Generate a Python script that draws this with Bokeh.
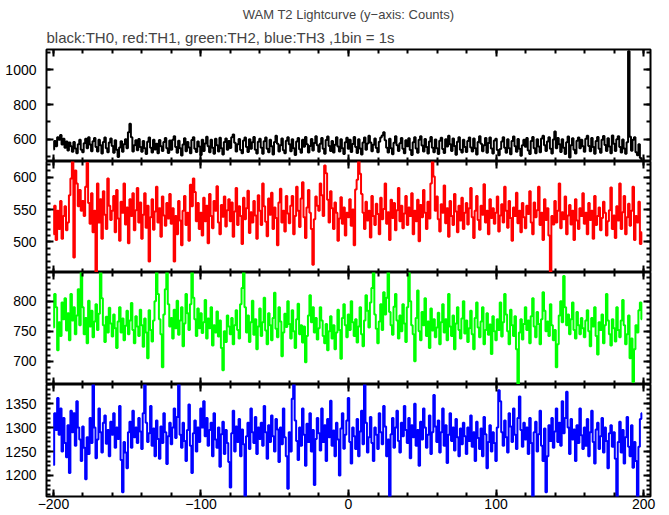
from bokeh.plotting import figure
from bokeh.layouts import column
from bokeh.models import LinearAxis, SingleIntervalTicker, Range1d, Title, ColumnDataSource
from bokeh.embed import file_html
from bokeh.resources import INLINE

# ---------------- data (1 s bins, time in s) ----------------
time_s = list(range(-200, 200))

th0 = [
    541, 590, 560, 612, 598, 625, 570, 603, 552, 588, 536, 581, 560, 528, 584, 547, 520, 572, 598, 540,
    526, 577, 603, 548, 612, 570, 531, 589, 608, 556, 530, 597, 566, 518, 584, 610, 549, 525, 581, 605,
    562, 522, 594, 540, 498, 553, 589, 528, 571, 600, 548, 640, 690, 612, 530, 566, 594, 537, 602, 555,
    528, 590, 549, 515, 586, 611, 552, 524, 598, 541, 575, 519, 596, 560, 532, 585, 607, 548, 521, 593,
    540, 598, 617, 556, 522, 592, 548, 507, 570, 606, 531, 584, 553, 520, 596, 612, 545, 527, 588, 559,
    510, 597, 533, 576, 615, 560, 526, 598, 551, 516, 603, 566, 530, 609, 548, 512, 584, 604, 540, 590,
    550, 612, 628, 580, 529, 571, 602, 538, 520, 593, 611, 556, 527, 601, 546, 583, 614, 540, 518, 586,
    603, 552, 516, 589, 610, 545, 526, 598, 560, 513, 584, 620, 575, 530, 566, 605, 537, 519, 592, 612,
    571, 531, 600, 549, 510, 588, 608, 543, 522, 597, 557, 613, 572, 524, 561, 602, 536, 579, 618, 566,
    528, 574, 607, 545, 517, 596, 616, 562, 533, 590, 524, 569, 612, 558, 529, 601, 548, 515, 583, 609,
    546, 598, 527, 573, 614, 556, 521, 600, 547, 512, 582, 611, 540, 576, 620, 581, 531, 568, 604, 550,
    525, 586, 610, 622, 640, 595, 552, 524, 603, 548, 514, 580, 618, 566, 533, 577, 608, 545, 519, 594,
    560, 606, 538, 510, 583, 612, 547, 522, 597, 617, 565, 529, 602, 556, 518, 588, 613, 552, 526, 599,
    549, 515, 592, 609, 544, 521, 601, 558, 620, 571, 533, 605, 562, 511, 586, 612, 540, 524, 597, 556,
    527, 590, 611, 553, 530, 604, 548, 512, 584, 618, 575, 531, 566, 607, 522, 579, 610, 547, 518, 593,
    603, 538, 508, 544, 588, 612, 551, 523, 600, 548, 514, 590, 616, 560, 528, 602, 546, 505, 566, 598,
    557, 607, 536, 515, 590, 614, 548, 520, 601, 559, 526, 604, 621, 566, 532, 588, 612, 546, 518, 599,
    645, 549, 607, 571, 527, 600, 552, 515, 583, 616, 495, 566, 606, 540, 518, 592, 611, 548, 597, 560,
    528, 603, 620, 562, 531, 608, 555, 517, 590, 613, 546, 522, 598, 619, 567, 533, 606, 558, 520, 622,
    574, 532, 601, 618, 556, 524, 599, 547, 516, 583, 1108, 615, 534, 597, 612, 526, 508, 571, 492, 470,
]

th1 = [
    512, 556, 503, 548, 520, 563, 505, 540, 555, 518, 530, 572, 598, 625, 476, 610, 590, 555, 580, 548,
    563, 540, 585, 622, 560, 528, 575, 515, 548, 452, 590, 530, 566, 505, 578, 542, 520, 598, 556, 534,
    548, 571, 515, 580, 536, 502, 562, 545, 590, 527, 553, 498, 566, 540, 575, 518, 549, 583, 530, 561,
    505, 542, 575, 522, 556, 470, 538, 566, 519, 547, 585, 530, 552, 508, 570, 541, 525, 560, 536, 574,
    528, 552, 470, 540, 512, 563, 533, 495, 548, 571, 526, 545, 502, 588, 555, 598, 577, 532, 560, 520,
    545, 510, 568, 532, 556, 498, 574, 540, 521, 563, 548, 586, 530, 512, 557, 539, 570, 524, 549, 566,
    532, 561, 508, 547, 583, 526, 555, 540, 497, 568, 535, 552, 579, 514, 546, 530, 563, 541, 505, 572,
    548, 526, 590, 555, 531, 509, 567, 542, 576, 520, 553, 537, 495, 561, 582, 530, 548, 516, 571, 544,
    529, 556, 571, 512, 540, 585, 548, 523, 567, 592, 538, 506, 553, 580, 545, 520, 465, 535, 570, 556,
    548, 590, 572, 540, 618, 606, 565, 530, 578, 552, 520, 561, 545, 502, 536, 569, 528, 553, 510, 545,
    538, 566, 525, 550, 495, 581, 596, 628, 605, 574, 545, 520, 562, 533, 548, 507, 571, 540, 526, 559,
    543, 512, 568, 535, 551, 590, 528, 546, 503, 565, 537, 560, 518, 549, 583, 532, 556, 521, 544, 571,
    526, 553, 540, 575, 512, 548, 532, 565, 501, 557, 538, 580, 545, 520, 562, 536, 590, 628, 601, 548,
    570, 535, 516, 558, 545, 587, 529, 552, 508, 563, 540, 526, 574, 547, 515, 556, 533, 568, 520, 545,
    560, 527, 552, 583, 538, 506, 548, 571, 534, 519, 556, 542, 589, 530, 548, 512, 566, 537, 552, 528,
    545, 570, 516, 541, 558, 530, 585, 548, 522, 563, 537, 502, 553, 540, 576, 529, 548, 515, 560, 538,
    521, 556, 543, 578, 530, 512, 561, 538, 549, 585, 526, 545, 503, 566, 534, 552, 510, 452, 540, 527,
    563, 530, 548, 590, 521, 546, 535, 570, 512, 541, 557, 527, 548, 503, 566, 533, 520, 552, 540, 575,
    528, 545, 512, 560, 534, 548, 505, 571, 526, 540, 553, 518, 537, 562, 545, 510, 532, 549, 584, 520,
    541, 506, 555, 533, 590, 520, 546, 571, 512, 538, 559, 525, 548, 585, 503, 540, 530, 562, 497, 515,
]

th2 = [
    756, 812, 790, 718, 765, 742, 798, 770, 805, 751, 780, 735, 812, 768, 790, 745, 776, 820, 760, 850,
    790, 745, 772, 730, 801, 758, 784, 740, 766, 795, 752, 779, 852, 805, 760, 732, 774, 748, 789, 763,
    741, 778, 755, 722, 766, 790, 748, 771, 735, 759, 784, 745, 768, 797, 752, 730, 775, 758, 742, 786,
    760, 724, 771, 748, 705, 785, 752, 733, 768, 800, 850, 812, 770, 745, 690, 778, 820, 852, 795, 758,
    772, 738, 786, 755, 801, 744, 768, 790, 725, 763, 812, 780, 752, 795, 850, 806, 770, 742, 788, 755,
    780, 747, 765, 802, 738, 771, 755, 790, 726, 760, 748, 783, 741, 768, 722, 685, 750, 732, 776, 758,
    745, 772, 728, 760, 785, 752, 738, 795, 822, 852, 790, 748, 776, 732, 765, 801, 744, 770, 720, 758,
    788, 742, 765, 806, 751, 728, 780, 760, 735, 772, 814, 754, 740, 790, 766, 708, 748, 779, 757, 800,
    762, 738, 785, 750, 722, 770, 796, 745, 760, 731, 758, 698, 742, 776, 810, 765, 790, 748, 772, 736,
    755, 790, 768, 742, 730, 762, 718, 750, 775, 738, 760, 720, 748, 786, 752, 704, 772, 795, 760, 740,
    778, 752, 800, 765, 742, 770, 731, 758, 790, 745, 725, 768, 810, 784, 756, 798, 822, 850, 778, 754,
    730, 766, 795, 752, 815, 778, 806, 850, 782, 760, 744, 791, 812, 768, 738, 776, 750, 795, 763, 732,
    790, 850, 800, 760, 745, 700, 772, 818, 750, 735, 782, 760, 805, 742, 766, 722, 788, 751, 770, 740,
    756, 781, 728, 765, 795, 748, 770, 735, 812, 758, 742, 776, 720, 763, 790, 752, 738, 771, 800, 746,
    768, 732, 755, 784, 745, 720, 772, 798, 756, 740, 766, 790, 728, 752, 780, 744, 761, 712, 775, 750,
    735, 770, 752, 798, 741, 765, 812, 778, 750, 728, 786, 760, 742, 775, 720, 655, 748, 770, 736, 762,
    790, 752, 768, 730, 775, 805, 758, 740, 782, 762, 728, 770, 815, 784, 750, 766, 742, 795, 760, 735,
    752, 690, 728, 776, 800, 765, 842, 790, 760, 778, 745, 770, 798, 752, 738, 782, 760, 745, 772, 755,
    740, 768, 785, 750, 725, 772, 758, 790, 742, 711, 765, 752, 778, 730, 760, 812, 768, 745, 726, 770,
    755, 733, 790, 752, 740, 768, 802, 760, 728, 745, 776, 705, 738, 665, 720, 760, 748, 785, 798, 770,
]

th3 = [
    1222, 1330, 1295, 1362, 1285, 1340, 1250, 1320, 1268, 1238, 1305, 1205, 1335, 1290, 1330, 1262, 1355, 1300, 1275, 1230,
    1302, 1258, 1192, 1280, 1245, 1320, 1268, 1390, 1300, 1236, 1275, 1340, 1290, 1248, 1310, 1325, 1266, 1295, 1240, 1312,
    1285, 1330, 1258, 1300, 1276, 1345, 1232, 1165, 1270, 1248, 1215, 1290, 1312, 1258, 1335, 1280, 1300, 1268, 1320, 1292,
    1255, 1330, 1392, 1310, 1270, 1288, 1345, 1262, 1298, 1240, 1315, 1276, 1235, 1302, 1268, 1330, 1290, 1224, 1282, 1310,
    1265, 1300, 1340, 1278, 1322, 1392, 1285, 1258, 1310, 1272, 1230, 1295, 1348, 1262, 1205, 1288, 1315, 1250, 1300, 1270,
    1340, 1300, 1355, 1282, 1320, 1262, 1295, 1310, 1240, 1330, 1275, 1258, 1300, 1218, 1286, 1312, 1245, 1295, 1268, 1228,
    1175, 1288, 1335, 1250, 1302, 1270, 1318, 1240, 1296, 1265, 1150, 1282, 1310, 1255, 1340, 1290, 1268, 1322, 1245, 1300,
    1276, 1310, 1262, 1345, 1290, 1235, 1305, 1270, 1325, 1282, 1250, 1318, 1296, 1228, 1300, 1265, 1340, 1280, 1240, 1172,
    1290, 1250, 1360, 1392, 1315, 1272, 1232, 1300, 1262, 1340, 1285, 1220, 1308, 1270, 1330, 1250, 1295, 1180, 1276, 1320,
    1288, 1252, 1340, 1270, 1305, 1230, 1318, 1280, 1356, 1262, 1294, 1240, 1310, 1275, 1200, 1298, 1330, 1256, 1285, 1315,
    1362, 1270, 1225, 1300, 1282, 1255, 1318, 1240, 1292, 1335, 1265, 1392, 1310, 1248, 1280, 1322, 1268, 1230, 1300, 1285,
    1255, 1330, 1290, 1265, 1345, 1302, 1240, 1275, 1150, 1286, 1320, 1258, 1300, 1335, 1272, 1248, 1310, 1282, 1345, 1295,
    1268, 1320, 1236, 1305, 1280, 1350, 1262, 1295, 1220, 1312, 1275, 1340, 1300, 1258, 1285, 1325, 1245, 1290, 1368, 1302,
    1270, 1315, 1248, 1290, 1340, 1262, 1305, 1226, 1285, 1330, 1272, 1300, 1252, 1318, 1280, 1240, 1298, 1265, 1310, 1282,
    1245, 1300, 1272, 1325, 1260, 1290, 1230, 1312, 1278, 1255, 1298, 1240, 1322, 1286, 1215, 1270, 1305, 1250, 1290, 1268,
    1230, 1300, 1378, 1355, 1290, 1262, 1315, 1280, 1248, 1330, 1302, 1270, 1340, 1285, 1255, 1320, 1365, 1295, 1260, 1310,
    1275, 1300, 1245, 1320, 1268, 1150, 1290, 1312, 1250, 1286, 1335, 1262, 1230, 1298, 1165, 1240, 1305, 1272, 1320, 1258,
    1292, 1340, 1270, 1310, 1262, 1355, 1288, 1320, 1375, 1300, 1245, 1318, 1275, 1296, 1230, 1305, 1268, 1340, 1284, 1255,
    1300, 1262, 1318, 1240, 1290, 1335, 1270, 1225, 1296, 1310, 1255, 1282, 1320, 1248, 1300, 1272, 1215, 1288, 1305, 1260,
    1290, 1235, 1150, 1270, 1312, 1248, 1295, 1225, 1280, 1322, 1260, 1240, 1305, 1216, 1270, 1230, 1152, 1260, 1318, 1330,
]

title_text = "WAM T2 Lightcurve (y\u2212axis: Counts)"
subtitle_text = "black:TH0, red:TH1, green:TH2, blue:TH3 ,1bin = 1s"
x_tick_labels = {-200: "\u2212200", -100: "\u2212100", 0: "0", 100: "100", 200: "200"}

series = [th0, th1, th2, th3]
colors = ["#000000", "#ff0000", "#00ff00", "#0000ff"]
y_limits = [(472, 1118), (453, 624), (661, 848), (1156, 1390)]
y_major = [200, 50, 50, 50]
y_minor = [2, 5, 5, 5]
x_limits = (-204.7, 204.7)

FONT = "Liberation Sans"
FRAME_W = 604
frame_heights = [112, 111, 112, 112]


def style_axis(ax, show_labels, standoff=0):
    ax.axis_line_color = None
    ax.major_tick_in = 7
    ax.major_tick_out = 0
    ax.minor_tick_in = 4
    ax.minor_tick_out = 0
    ax.major_tick_line_width = 2
    ax.minor_tick_line_width = 2
    ax.major_tick_line_color = "black"
    ax.minor_tick_line_color = "black"
    if show_labels:
        ax.major_label_text_font = FONT
        ax.major_label_text_font_size = "14px"
        ax.major_label_text_color = "black"
        ax.major_label_standoff = standoff
    else:
        ax.major_label_text_font_size = "0px"
        ax.major_label_text_color = None
        ax.major_label_standoff = 0


panels = []
for i in range(4):
    first = i == 0
    last = i == 3
    p = figure(
        frame_width=FRAME_W, frame_height=frame_heights[i],
        x_range=Range1d(*x_limits), y_range=Range1d(*y_limits[i]),
        output_backend="svg", toolbar_location=None, title=None,
        min_border_left=46, min_border_right=10,
        min_border_top=49 if first else 0, min_border_bottom=0,
        background_fill_color="white", border_fill_color="white",
    )
    p.xgrid.visible = False
    p.ygrid.visible = False
    p.outline_line_color = "black"
    p.outline_line_width = 2

    xt = SingleIntervalTicker(interval=100, num_minor_ticks=5)
    yt = SingleIntervalTicker(interval=y_major[i], num_minor_ticks=y_minor[i])

    p.xaxis.ticker = xt
    p.yaxis.ticker = yt
    style_axis(p.xaxis[0], last, standoff=2)
    if last:
        p.xaxis[0].major_label_overrides = x_tick_labels
    style_axis(p.yaxis[0], True, standoff=10)

    top_ax = LinearAxis(ticker=xt)
    style_axis(top_ax, False)
    p.add_layout(top_ax, "above")
    right_ax = LinearAxis(ticker=yt)
    style_axis(right_ax, False)
    p.add_layout(right_ax, "right")

    src = ColumnDataSource(data=dict(t=time_s, v=series[i]))
    p.step(x="t", y="v", source=src, mode="center", line_color=colors[i], line_width=2)

    if first:
        sub = Title(text=subtitle_text, align="left", text_font=FONT,
                    text_font_size="15px", text_font_style="normal", standoff=8)
        p.add_layout(sub, "above")
        main = Title(text=title_text, align="center", text_font=FONT,
                     text_font_size="13px", text_font_style="normal", standoff=2)
        p.add_layout(main, "above")
    panels.append(p)

layout = column(*panels, spacing=0)
open("out.html", "w").write(file_html(layout, INLINE))
